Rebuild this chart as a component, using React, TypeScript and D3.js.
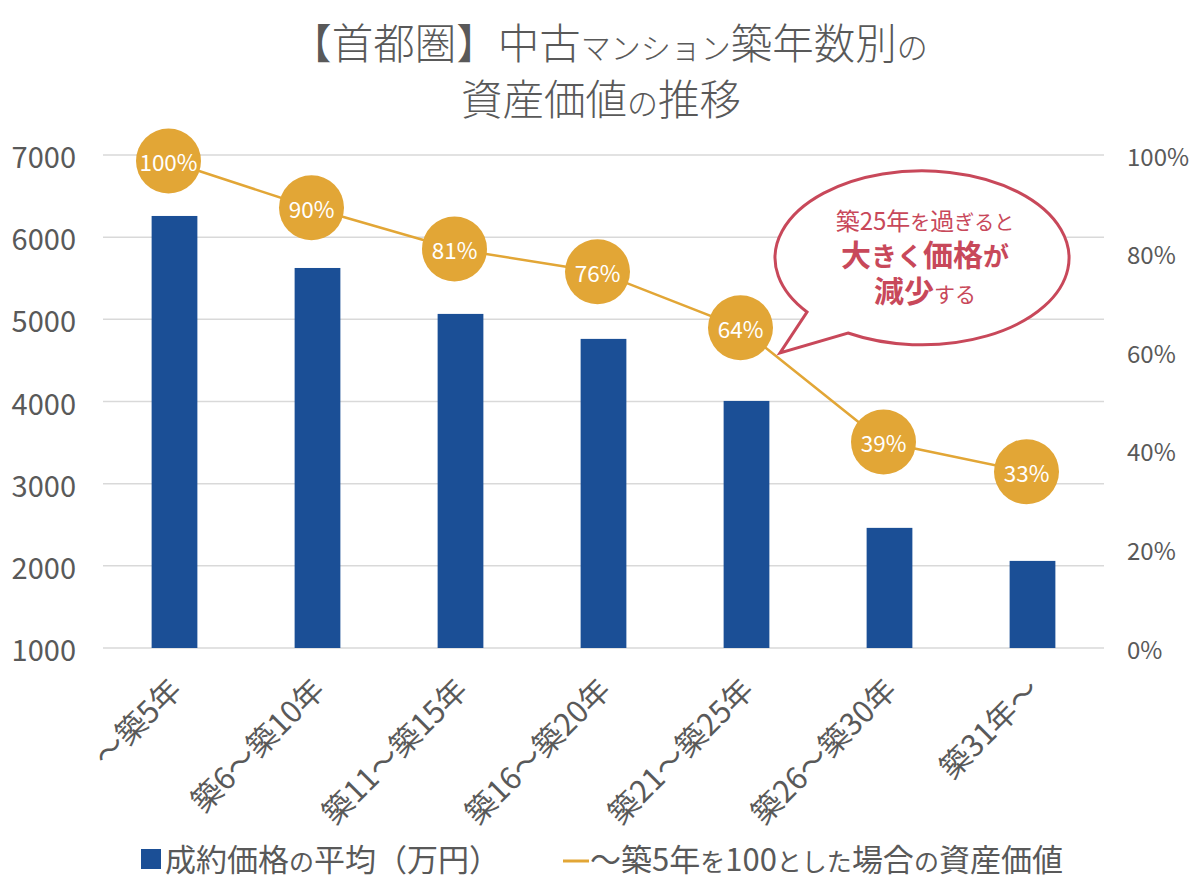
import React from "react";
import * as d3 from "d3";

const categories = ["〜築5年", "築6〜築10年", "築11〜築15年", "築16〜築20年", "築21〜築25年", "築26〜築30年", "築31年〜"];
const avgPrice = [6258, 5625, 5066, 4762, 4007, 2462, 2060];
const assetRatio = [1.0, 0.899, 0.81, 0.761, 0.64, 0.393, 0.329];
const leftTicks = [1000, 2000, 3000, 4000, 5000, 6000, 7000];
const rightTicks = [0, 0.2, 0.4, 0.6, 0.8, 1.0];

const W = 1200;
const H = 891;
const FONT = "'Noto Sans CJK JP', 'Noto Sans', sans-serif";
const GRAY = "#595959";
const BAR = "#1B4F96";
const GOLD = "#E2A636";
const RED = "#C8485A";

export default function App() {
  const x = d3.scaleBand<string>().domain(categories).range([103, 1104]).paddingInner(0.68).paddingOuter(0.34);
  const yL = d3.scaleLinear().domain([1000, 7000]).range([648, 155]);
  const yR = d3.scaleLinear().domain([0, 1]).range([648, 155]);
  const yLine = d3.scaleLinear().domain([0, 1]).range([624, 161]);
  const lineX = (c: string) => (x(c) as number) + x.bandwidth() / 2 - 6;
  const linePath = d3
    .line<number>()
    .x((_, i) => lineX(categories[i]))
    .y((d) => yLine(d))(assetRatio) as string;

  // speech bubble
  const p1 = [807, 312];
  const p2 = [848, 333];
  const tip = [780, 353];
  const bubble = `M${p1[0]},${p1[1]} A147,87 0 1 1 ${p2[0]},${p2[1]} L${tip[0]},${tip[1]} Z`;

  return (
    <svg width={W} height={H} style={{ display: "block", position: "absolute", left: 0, top: 0, background: "#fff" }} fontFamily={FONT}>
      <rect width={W} height={H} fill="#fff" />
      {/* title */}
      <text x={609} y={59} textAnchor="middle" fill={GRAY} fontSize={41.5} fontWeight={300}>
        <tspan>【首都圏】中古</tspan>
        <tspan fontSize={30}>マンション</tspan>
        <tspan>築年数別</tspan>
        <tspan fontSize={31}>の</tspan>
      </text>
      <text x={601} y={115} textAnchor="middle" fill={GRAY} fontSize={41.5} fontWeight={300}>
        <tspan>資産価値</tspan>
        <tspan fontSize={31}>の</tspan>
        <tspan>推移</tspan>
      </text>

      {/* grid */}
      {leftTicks.map((t) => (
        <line key={t} x1={103} x2={1104} y1={yL(t)} y2={yL(t)} stroke="#d9d9d9" strokeWidth={1.5} />
      ))}
      {leftTicks.map((t) => (
        <text key={"l" + t} x={76} y={yL(t)} textAnchor="end" dominantBaseline="central" fontSize={29} fill={GRAY}>
          {t}
        </text>
      ))}
      {rightTicks.map((t) => (
        <text key={"r" + t} x={1127} y={yR(t)} dominantBaseline="central" fontSize={24} fill={GRAY}>
          {d3.format(".0%")(t)}
        </text>
      ))}

      {/* bars */}
      {categories.map((c, i) => (
        <rect key={c} x={x(c)} y={yL(avgPrice[i])} width={x.bandwidth()} height={yL(1000) - yL(avgPrice[i])} fill={BAR} />
      ))}

      {/* x labels */}
      {categories.map((c) => {
        const cx = (x(c) as number) + x.bandwidth() / 2 + 9;
        const cy = 692;
        return (
          <text key={"x" + c} x={cx} y={cy} textAnchor="end" fontSize={30.5} fill={GRAY} transform={`rotate(-45 ${cx} ${cy})`}>
            {c}
          </text>
        );
      })}

      {/* line */}
      <path d={linePath} fill="none" stroke={GOLD} strokeWidth={2.5} />
      {assetRatio.map((v, i) => (
        <g key={"p" + i}>
          <circle cx={lineX(categories[i])} cy={yLine(v)} r={32.5} fill={GOLD} />
          <text x={lineX(categories[i])} y={yLine(v)} textAnchor="middle" dominantBaseline="central" fill="#fff" fontSize={22.5}>
            {Math.round(v * 100)}%
          </text>
        </g>
      ))}

      {/* callout */}
      <path d={bubble} fill="#fff" stroke={RED} strokeWidth={3} strokeLinejoin="miter" />
      <text x={925} y={230} textAnchor="middle" fill={RED} fontSize={24}>
        <tspan>築25年</tspan>
        <tspan fontSize={20}>を</tspan>
        <tspan>過</tspan>
        <tspan fontSize={20}>ぎると</tspan>
      </text>
      <text x={925} y={266} textAnchor="middle" fill={RED} fontSize={30} fontWeight="bold">
        <tspan>大</tspan>
        <tspan fontSize={26}>きく</tspan>
        <tspan>価格</tspan>
        <tspan fontSize={26}>が</tspan>
      </text>
      <text x={925} y={302} textAnchor="middle" fill={RED} fontSize={30}>
        <tspan fontWeight="bold">減少</tspan>
        <tspan fontSize={21}>する</tspan>
      </text>

      {/* legend */}
      <rect x={141} y={849} width={20} height={20} fill={BAR} />
      <text x={165} y={871} fontSize={31} fill={GRAY}>
        <tspan>成約価格</tspan>
        <tspan fontSize={25}>の</tspan>
        <tspan>平均（万円）</tspan>
      </text>
      <line x1={563} x2={589} y1={861} y2={861} stroke={GOLD} strokeWidth={3} />
      <text x={590} y={871} fontSize={31} fill={GRAY}>
        <tspan>〜築5年</tspan>
        <tspan fontSize={25}>を</tspan>
        <tspan>100</tspan>
        <tspan fontSize={25}>とした</tspan>
        <tspan>場合</tspan>
        <tspan fontSize={25}>の</tspan>
        <tspan>資産価値</tspan>
      </text>
    </svg>
  );
}
